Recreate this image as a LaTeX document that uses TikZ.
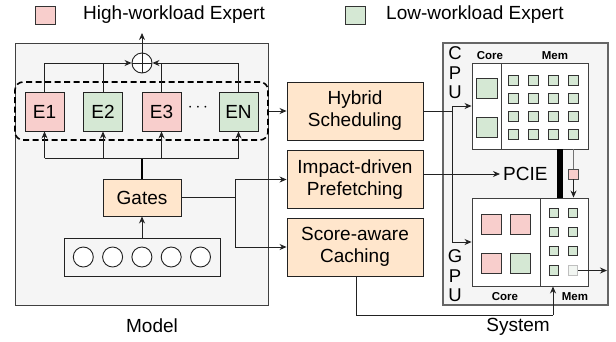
\documentclass[tikz,border=0pt]{standalone}
\usepackage{fontspec}
\setmainfont{Liberation Sans}
\usetikzlibrary{arrows.meta,calc}
\definecolor{pinkf}{HTML}{F8CECC}
\definecolor{greenf}{HTML}{D5E8D4}
\definecolor{orangef}{HTML}{FFE6CC}
\definecolor{grayf}{HTML}{F5F5F5}
\definecolor{lightsq}{HTML}{F2F6F2}
\definecolor{lnc}{HTML}{222222}
\newcommand\bigf{\fontsize{19}{22}\selectfont}
\newcommand\smallbf{\fontsize{11.5}{13}\selectfont\bfseries}
\begin{document}
\begin{tikzpicture}[x=1pt,y=-1pt,
  every node/.style={inner sep=0pt},
  ln/.style={draw=lnc, line width=0.85pt},
  arr/.style={ln, -{Stealth[length=7pt,width=6pt]}},
  expert/.style={draw=lnc, line width=0.9pt, minimum width=39pt, minimum height=39pt, font=\bigf},
  hi/.style={expert, fill=pinkf},
  lo/.style={expert, fill=greenf},
  proc/.style={draw=lnc, line width=0.9pt, fill=orangef, minimum width=136pt, minimum height=58pt, align=center, font=\bigf},
  unitbox/.style={draw=black!75, line width=0.9pt, fill=white},
  bigsq/.style={draw=black!80, line width=0.8pt, minimum width=20pt, minimum height=20pt},
  smsq/.style={draw=black!80, line width=0.7pt, fill=greenf, minimum width=10pt, minimum height=10pt},
  lbl/.style={font=\bigf},
  sublbl/.style={font=\smallbf}
]
\useasboundingbox (0,0) rectangle (616,341);

% legend
\node[draw=black!80, line width=0.8pt, fill=pinkf, minimum width=20pt, minimum height=18pt] (lgh) at (45,15) {};
\node[lbl, anchor=west] (lght) at (83,15) {High-workload Expert};
\node[draw=black!80, line width=0.8pt, fill=greenf, minimum width=20pt, minimum height=18pt] (lgl) at (355,15) {};
\node[lbl, anchor=west] (lglt) at (386,15) {Low-workload Expert};

% model panel
\node[draw=black!75, line width=0.9pt, fill=grayf, minimum width=253pt, minimum height=262pt] (model) at (141.5,174) {};
\node[lbl] (modellbl) at (152,326) {Model};

% experts
\node[hi] (E1) at (44.5,111.5) {E1};
\node[lo] (E2) at (103,111.5) {E2};
\node[hi] (E3) at (161.5,111.5) {E3};
\node[lo] (EN) at (238.5,111.5) {EN};
\node[font=\bigf] (dots) at (198,108) {$\cdots$};
\node[draw=black, line width=1.6pt, dash pattern=on 6pt off 3.5pt, rounded corners=8pt, minimum width=253pt, minimum height=58pt] (grp) at (141.5,111) {};

% sum
\node[circle, draw=lnc, line width=0.9pt, fill=white, minimum size=20pt] (sum) at (142,63) {};
\draw[ln] (sum.north) -- (sum.south) (sum.west) -- (sum.east);
\coordinate (outtop) at (142,33);
\draw[arr] (sum.north) -- (outtop);
\draw[arr] (E1.north) |- (sum.west);
\draw[ln] (E2.north) -- (E2.north |- sum.west);
\draw[arr] (E3.north) |- (sum.east);
\draw[ln] (EN.north) |- (E3.north |- sum.east);

% gates and input
\node[draw=lnc, line width=0.9pt, fill=orangef, minimum width=78pt, minimum height=37pt, font=\bigf] (gates) at (142,197.5) {Gates};
\node[draw=lnc, line width=0.9pt, fill=grayf, minimum width=156pt, minimum height=38pt] (inp) at (142,257) {};
\foreach \i/\xx in {1/83.3,2/112.6,3/141.9,4/171.2,5/200.5}
  \node[circle, draw=lnc, line width=0.9pt, fill=white, minimum size=20pt] (c\i) at (\xx,257) {};
\draw[arr] (inp.north) -- (gates.south);
\coordinate (bus) at (142,158);
\draw[draw=black, line width=1.6pt] (gates.north) -- (bus);
\draw[ln] (E1.south |- bus) -- (EN.south |- bus);
\foreach \e in {E1,E2,E3,EN} \draw[arr] (\e.south |- bus) -- (\e.south);

% processing boxes
\node[proc] (hyb) at (355,111) {Hybrid\\Scheduling};
\node[proc] (imp) at (355,179.5) {Impact-driven\\Prefetching};
\node[proc] (sca) at (355,247) {Score-aware\\Caching};
\draw[arr] (grp.east |- hyb.west) -- (hyb.west);
\coordinate (gsplit) at (235,197.5);
\draw[ln] (gates.east) -- (gsplit);
\draw[arr] (gsplit) |- (imp.west);
\draw[arr] (gsplit) |- (sca.west);

% system panel
\node[draw=black!60, line width=1.3pt, fill=grayf, minimum width=165pt, minimum height=262pt] (sys) at (525.5,174) {};
\node[lbl] (syslbl) at (518,327) {System};

% CPU
\node[font=\fontsize{18.5}{19.5}\selectfont, align=center] (cpul) at (455,73) {C\\P\\U};
\node[unitbox, minimum width=29pt, minimum height=86pt] (ccore) at (486.5,106) {};
\node[unitbox, minimum width=87pt, minimum height=86pt] (cmem) at (544.5,106) {};
\node[sublbl] (ccorel) at (490,56) {Core};
\node[sublbl] (cmeml) at (555,56) {Mem};
\node[bigsq, fill=greenf, minimum width=21pt] (cc1) at (486.5,88) {};
\node[bigsq, fill=greenf, minimum width=21pt] (cc2) at (486.5,127.5) {};
\foreach \r/\yy in {1/80,2/98,3/116,4/134}
  \foreach \c/\xx in {1/513.5,2/533.5,3/553.5,4/573.5}
    \node[smsq] (cm\r\c) at (\xx,\yy) {};

% GPU
\node[font=\fontsize{18.5}{19.5}\selectfont, align=center] (gpul) at (455,276) {G\\P\\U};
\node[unitbox, minimum width=68pt, minimum height=88pt] (gcore) at (506,242) {};
\node[unitbox, minimum width=48pt, minimum height=88pt] (gmem) at (564,242) {};
\node[sublbl] (gcorel) at (505,297) {Core};
\node[sublbl] (gmeml) at (575,297) {Mem};
\node[bigsq, fill=pinkf] (gc1) at (491,224) {};
\node[bigsq, fill=pinkf] (gc2) at (520,224) {};
\node[bigsq, fill=pinkf] (gc3) at (491,263.5) {};
\node[bigsq, fill=greenf] (gc4) at (520,263.5) {};
\foreach \r/\yy in {1/213,2/232,3/251}
  \foreach \c/\xx in {1/554,2/573}
    \node[smsq, minimum width=9.5pt, minimum height=9.5pt] (gm\r\c) at (\xx,\yy) {};
\node[smsq, minimum width=9.5pt, minimum height=9.5pt] (gm41) at (554,270.5) {};
\node[smsq, draw=black!25, fill=lightsq, minimum width=9.5pt, minimum height=9.5pt] (gm42) at (573,270.5) {};
\coordinate (gout) at (607,270.5);
\draw[arr] (gm42.east) -- (gout);

% hybrid scheduling connectors
\coordinate (hsplit) at (452,111);
\draw[ln] (hyb.east) -- (hsplit);
\draw[arr] (hsplit) |- (ccore.west |- 0,106);
\draw[arr] (hsplit) |- (gcore.west |- 0,242);

% PCIE
\node[lbl, anchor=west, inner xsep=3pt] (pcie) at (500,174) {PCIE};
\draw[arr] (imp.east |- pcie.west) -- (pcie.west);
\coordinate (busTop) at (560,149);
\draw[draw=black, line width=6pt] (cmem.south -| busTop) -- (gmem.north -| busTop);
\node[draw=black!70, line width=0.7pt, fill=pinkf, minimum width=9.5pt, minimum height=10pt] (pk) at (573.5,174) {};
\draw[draw=black!55, line width=0.9pt] (cmem.south -| pk.north) -- (pk.north);
\draw[arr] (pk.south) -- (gmem.north -| pk.south);

% caching connector
\coordinate (cbot) at (356,315);
\coordinate (cend) at (553,315);
\draw[ln] (sca.south -| cbot) -- (cbot) -- (cend);
\draw[arr] (cend) -- (gmem.south -| cend);
\end{tikzpicture}
\end{document}
